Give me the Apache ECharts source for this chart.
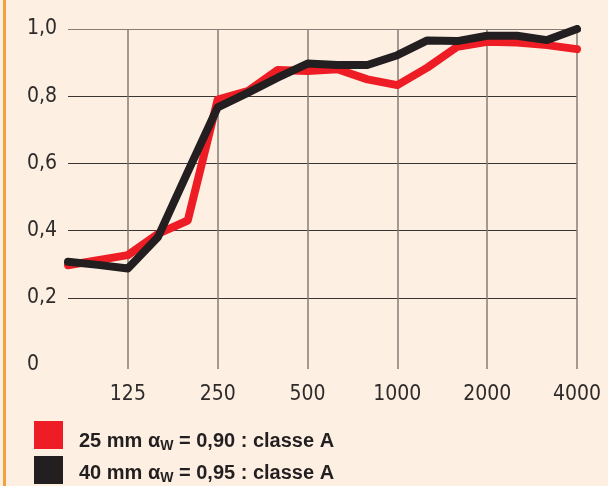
<!DOCTYPE html>
<html>
<head>
<meta charset="utf-8">
<script src="https://cdn.jsdelivr.net/npm/echarts@6/dist/echarts.min.js"></script>
<style>
html,body{margin:0;padding:0;background:#fdf0e3;}
#chart{width:608px;height:486px;}
</style>
</head>
<body>
<div id="chart"></div>
<script>
var frequencies = ['80','100','125','160','200','250','315','400','500','630','800','1000','1250','1600','2000','2500','3150','4000'];
var labeledFrequencies = ['125','250','500','1000','2000','4000'];
var series25mm = [0.297,0.312,0.327,0.39,0.43,0.79,0.815,0.878,0.875,0.88,0.85,0.833,0.885,0.947,0.962,0.96,0.952,0.94];
var series40mm = [0.307,0.298,0.287,0.38,0.575,0.767,0.81,0.855,0.897,0.893,0.893,0.922,0.966,0.964,0.98,0.98,0.967,1.0];
var seriesNames = ['25 mm αw = 0,90 : classe A','40 mm αw = 0,95 : classe A'];
var legendRich = ['25 mm α{sub|W} = 0,90 : classe A','40 mm α{sub|W} = 0,95 : classe A'];

var tickFont = '"DejaVu Sans Condensed", "Liberation Sans", sans-serif';
var chart = echarts.init(document.getElementById('chart'), null, {renderer:'canvas'});
function isLabeled(i){ return labeledFrequencies.indexOf(frequencies[i]) >= 0; }
function makeLegend(k, top, textDown){
  return {
    orient: 'horizontal', left: 34, top: top, padding: 0,
    itemWidth: 29, itemHeight: 28, itemGap: 6,
    icon: 'rect',
    data: [seriesNames[k]],
    formatter: function(name){ return legendRich[seriesNames.indexOf(name)]; },
    textStyle: {
      fontFamily: 'Liberation Sans', fontWeight: 'bold', fontSize: 20, color: '#231f20',
      padding: [textDown,0,0,11],
      rich: {
        sub: {fontFamily: 'Liberation Sans', fontWeight: 'bold', fontSize: 14, color: '#231f20', padding: [10,0,0,0]}
      }
    }
  };
}
var option = {
  backgroundColor: '#fdf0e3',
  animation: false,
  grid: {left: 68, right: 31, top: 29, bottom: 121, containLabel: false},
  graphic: [{
    type: 'rect', left: 3, top: 0,
    shape: {width: 3, height: 486},
    style: {fill: '#f4a03c'}
  }],
  legend: [makeLegend(0, 421, 12), makeLegend(1, 456, 6)],
  xAxis: {
    type: 'category', data: frequencies, boundaryGap: false,
    axisLine: {show: false},
    axisTick: {show: true, length: 4, interval: function(i){ return isLabeled(i); }, lineStyle: {color: '#857d76', width: 1.5}},
    axisLabel: {interval: function(i){ return isLabeled(i); }, fontFamily: tickFont, fontSize: 21, color: '#2e2b2a', margin: 19},
    splitLine: {show: true, interval: function(i){ return isLabeled(i); }, lineStyle: {color: '#857d76', width: 1.5}}
  },
  yAxis: {
    type: 'value', min: 0, max: 1, interval: 0.2,
    axisLine: {show: false}, axisTick: {show: false},
    axisLabel: {
      align: 'left', margin: 41, fontFamily: tickFont, fontSize: 21, color: '#2e2b2a',
      formatter: function(v){ return v === 0 ? '0' : v.toFixed(1).replace('.', ','); }
    },
    splitLine: {show: true, lineStyle: {color: ['rgba(0,0,0,0)','#3a3533','#3a3533','#3a3533','#3a3533','#857d76'], width: 1.2}}
  },
  series: [
    {name: seriesNames[0], type: 'line', data: series25mm, symbol: 'none', smooth: false,
     itemStyle: {color: '#ee1d25'},
     lineStyle: {color: '#ee1d25', width: 8, cap: 'round', join: 'round'}},
    {name: seriesNames[1], type: 'line', data: series40mm, symbol: 'none', smooth: false,
     itemStyle: {color: '#231f20'},
     lineStyle: {color: '#231f20', width: 8, cap: 'round', join: 'round'}}
  ]
};
chart.setOption(option);
</script>
</body>
</html>
